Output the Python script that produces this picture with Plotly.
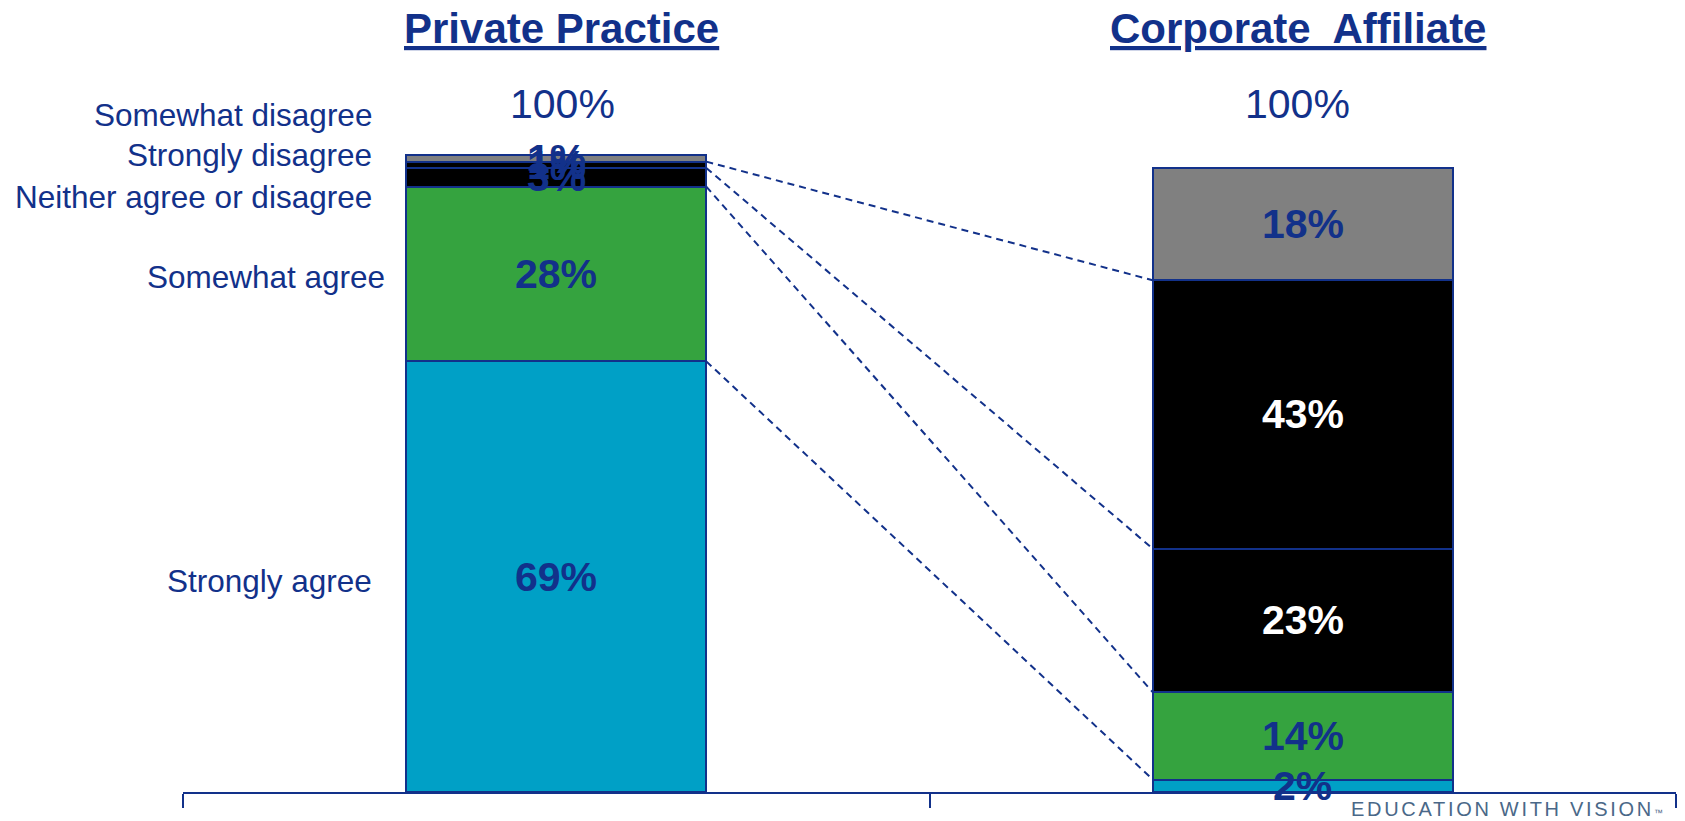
import plotly.graph_objects as go
import numpy as np

# ---- data -------------------------------------------------------------
groups = ["Private Practice", "Corporate  Affiliate"]
responses = [
    "Strongly agree",
    "Somewhat agree",
    "Neither agree or disagree",
    "Strongly disagree",
    "Somewhat disagree",
]
private_pct = [69, 28, 3, 1, 1]
corporate_pct = [2, 14, 23, 43, 18]
total_labels = ["100%", "100%"]

# ---- styling ----------------------------------------------------------
NAVY = "#12318a"
FONT = "Liberation Sans, Arial, sans-serif"
seg_colors = ["#00a0c6", "#35a33f", "#000000", "#000000", "#808080"]
private_text_colors = [NAVY, NAVY, NAVY, NAVY, NAVY]
corporate_text_colors = [NAVY, NAVY, "white", "white", NAVY]
BAR_W = 0.402
Y_MAX = 126.9

x_pos = np.arange(len(groups))
values = np.array([private_pct, corporate_pct], dtype=float)  # groups x responses
tops = np.cumsum(values, axis=1)
mids = tops - values / 2.0

fig = go.Figure()
for k, resp in enumerate(responses):
    fig.add_trace(go.Bar(
        x=x_pos,
        y=values[:, k],
        name=resp,
        width=BAR_W,
        marker=dict(color=seg_colors[k], line=dict(color=NAVY, width=2)),
        showlegend=False,
        hoverinfo="skip",
    ))

annotations = []

# value labels centred on each segment
text_colors = [private_text_colors, corporate_text_colors]
for g in range(len(groups)):
    for k in range(len(responses)):
        annotations.append(dict(
            x=x_pos[g], y=mids[g, k], xref="x", yref="y",
            text=f"<b>{int(values[g, k])}%</b>",
            showarrow=False, xanchor="center", yanchor="middle",
            font=dict(family=FONT, size=41, color=text_colors[g][k]),
        ))

# group headings and totals
for g, name in enumerate(groups):
    annotations.append(dict(
        x=x_pos[g], y=122.6, xref="x", yref="y",
        text=f"<b>{name}</b>", showarrow=False,
        xanchor="center", yanchor="middle", xshift=[5, -5][g], yshift=-2,
        font=dict(family=FONT, size=42, color=NAVY, lineposition="under"),
    ))
    annotations.append(dict(
        x=x_pos[g], y=110.4, xref="x", yref="y",
        text=total_labels[g], showarrow=False,
        xanchor="center", yanchor="middle", xshift=[6, -5][g], yshift=-1,
        font=dict(family=FONT, size=41, color=NAVY),
    ))

# category names to the left of the first bar
label_y = [mids[0, 0], mids[0, 1], 95.4, 102.1, 108.5]
label_shift = [0, 13, 0, 0, 0]
label_yshift = [-4, -3, 0, 0, 0]
for k, resp in enumerate(responses):
    annotations.append(dict(
        x=0.128, y=label_y[k], xref="paper", yref="y",
        text=resp, showarrow=False,
        xanchor="right", yanchor="middle",
        xshift=label_shift[k], yshift=label_yshift[k],
        font=dict(family=FONT, size=31.5, color=NAVY),
    ))

# footer tagline
annotations.append(dict(
    x=0.9926, y=-0.021, xref="paper", yref="paper",
    text='<span style="letter-spacing:2.7px">EDUCATION WITH VISION</span>'
         '<span style="font-size:9px">™</span>',
    showarrow=False, xanchor="right", yanchor="middle",
    font=dict(family=FONT, size=20, color="#4a6888"),
))

# dashed connectors between segment tops of the two bars
shapes = []
for k in range(len(responses) - 1):
    shapes.append(dict(
        type="line", xref="x", yref="y",
        x0=x_pos[0] + BAR_W / 2, y0=tops[0, k],
        x1=x_pos[1] - BAR_W / 2, y1=tops[1, k],
        line=dict(color=NAVY, width=2, dash="7px,5px"),
        layer="below",
    ))

fig.update_layout(
    width=1685, height=821,
    margin=dict(l=183, r=9, t=0, b=29),
    barmode="stack",
    plot_bgcolor="white", paper_bgcolor="white",
    annotations=annotations,
    shapes=shapes,
    xaxis=dict(
        range=[-0.5, 1.5], tickmode="array", tickvals=[-0.5, 0.5, 1.5],
        showticklabels=False, ticks="outside", ticklen=14, tickwidth=2,
        tickcolor=NAVY, showline=True, linecolor=NAVY, linewidth=2,
        showgrid=False, zeroline=False, fixedrange=True,
    ),
    yaxis=dict(
        range=[0, Y_MAX], visible=False, showgrid=False, zeroline=False,
        fixedrange=True,
    ),
)

fig.write_html("out.html")
